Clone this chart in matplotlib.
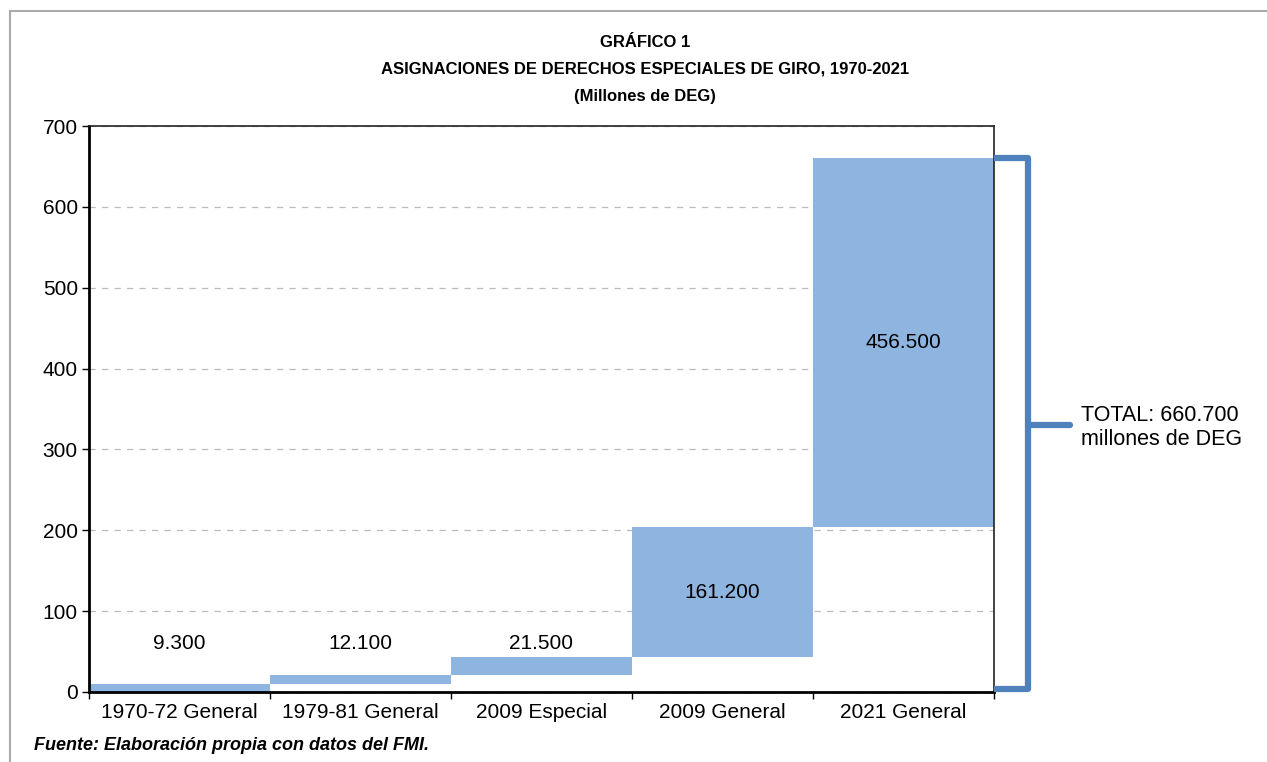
import matplotlib.pyplot as plt
from matplotlib.lines import Line2D
import matplotlib.transforms as mtransforms

categorias = ['1970-72 General', '1979-81 General', '2009 Especial', '2009 General', '2021 General']
valores = [9.3, 12.1, 21.5, 161.2, 456.5]
etiquetas = ['9.300', '12.100', '21.500', '161.200', '456.500']
total_txt = 'TOTAL: 660.700\nmillones de DEG'

plt.rcParams['font.family'] = ['Liberation Sans', 'DejaVu Sans']

fig = plt.figure(figsize=(12.67, 7.62), dpi=100)
ax = fig.add_axes([0.0702, 0.0919, 0.7143, 0.7427])

# bases acumuladas (cascada)
bases = []
acum = 0
for v in valores:
    bases.append(acum)
    acum += v

x = list(range(len(valores)))
ax.bar(x, valores, bottom=bases, width=1.0, color='#8eb4e0', zorder=2)

for i, v in enumerate(valores):
    if v < 50:
        y = 60
    else:
        y = bases[i] + v / 2
    ax.text(i, y, etiquetas[i], ha='center', va='center', fontsize=15, zorder=3)

ax.set_xlim(-0.5, len(valores) - 0.5)
ax.set_ylim(0, 700)
ax.set_yticks(range(0, 701, 100))
ax.set_xticks(x)
ax.set_xticklabels(categorias, fontsize=15)
ax.tick_params(axis='x', length=0, pad=8)
ax.set_xticks([i + 0.5 for i in range(-1, len(valores))], minor=True)
ax.tick_params(axis='x', which='minor', length=5, width=1)
ax.tick_params(axis='y', labelsize=15, length=5, width=1, pad=3)
ax.yaxis.grid(True, linestyle=(0, (5, 5)), color='#bbbbbb', linewidth=0.9)
ax.set_axisbelow(True)
for s in ['left', 'bottom']:
    ax.spines[s].set_linewidth(2)
for s in ['top', 'right']:
    ax.spines[s].set_linewidth(1.2)
    ax.spines[s].set_color('#222222')

# llave del total
trans = mtransforms.blended_transform_factory(ax.transAxes, ax.transData)
top = acum
ax.add_line(Line2D([1.0, 1.0376, 1.0376, 1.0], [top, top, 4, 4], transform=trans,
                   color='#4f81bd', linewidth=4.5, solid_joinstyle='round',
                   solid_capstyle='butt', clip_on=False, zorder=4))
ax.add_line(Line2D([1.0376, 1.084], [top / 2, top / 2], transform=trans,
                   color='#4f81bd', linewidth=4.5, solid_capstyle='round',
                   clip_on=False, zorder=4))
ax.text(1.096, top / 2 - 3, total_txt, transform=trans, ha='left', va='center',
        fontsize=15.5, linespacing=1.2)

# titulos
fig.text(0.509, 0.944, 'GRÁFICO 1', ha='center', va='center', fontsize=12, fontweight='bold')
fig.text(0.509, 0.909, 'ASIGNACIONES DE DERECHOS ESPECIALES DE GIRO, 1970-2021', ha='center',
         va='center', fontsize=12, fontweight='bold')
fig.text(0.509, 0.874, '(Millones de DEG)', ha='center', va='center', fontsize=12, fontweight='bold')
fig.text(0.027, 0.022, 'Fuente: Elaboración propia con datos del FMI.', ha='left', va='center',
         fontsize=13, fontweight='bold', style='italic')

# marco gris
fig.add_artist(Line2D([0.008, 1.0], [0.986, 0.986], color='#aaaaaa', linewidth=1.5))
fig.add_artist(Line2D([0.008, 0.008], [0.0, 0.986], color='#aaaaaa', linewidth=1.5))

fig.savefig('out.png', dpi=100)
